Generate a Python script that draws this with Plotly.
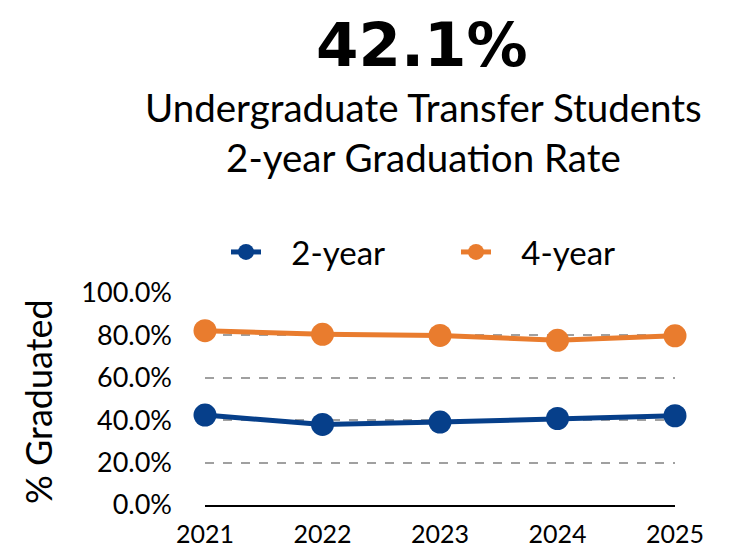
import plotly.graph_objects as go

years = [2021, 2022, 2023, 2024, 2025]
two_year = [42.4, 38.0, 39.1, 40.8, 42.1]
four_year = [82.2, 80.5, 80.0, 77.7, 79.8]
y_ticks = [0, 20, 40, 60, 80, 100]
y_tick_text = ["0.0%", "20.0%", "40.0%", "60.0%", "80.0%", "100.0%"]
headline = "42.1%"
subtitle = "Undergraduate Transfer Students<br>2-year Graduation Rate"

BLUE = "#063f8a"
ORANGE = "#e97c2e"
FONT = "Lato"
PAD = "\u00a0" * 3  # extra gap between legend symbol and label

# page has an 8px body margin, so work in page pixels and shift
OFF = 8
W, H = 733 - OFF, 548 - OFF
# plot area in page pixels: x 205..675, y 293..505
L, R, T, B = 205 - OFF, 675 - OFF, 293 - OFF, 505 - OFF

fig = go.Figure()
fig.add_trace(go.Scatter(x=years, y=two_year, name=PAD + "2-year", mode="lines+markers",
                         line=dict(color=BLUE, width=5), marker=dict(size=23, color=BLUE),
                         cliponaxis=False))
fig.add_trace(go.Scatter(x=years, y=four_year, name=PAD + "4-year", mode="lines+markers",
                         line=dict(color=ORANGE, width=5), marker=dict(size=23, color=ORANGE),
                         cliponaxis=False))

fig.update_layout(
    width=W, height=H,
    margin=dict(l=L, r=W - R, t=T, b=H - B, autoexpand=False),
    paper_bgcolor="white", plot_bgcolor="white",
    font=dict(family=FONT, color="black", size=22),
    showlegend=True,
    legend=dict(orientation="h", xref="container", yref="container",
                x=(226 - OFF) / W, y=1 - (252 - OFF) / H, xanchor="left", yanchor="middle",
                font=dict(size=33), entrywidth=185, entrywidthmode="pixels",
                bgcolor="rgba(0,0,0,0)"),
)
fig.update_xaxes(range=[2021, 2025], tickvals=years, showgrid=False,
                 showline=True, linecolor="black", linewidth=2, ticks="",
                 tickfont=dict(size=25), zeroline=False, ticklabelstandoff=6)
fig.update_yaxes(range=[0, 100], tickvals=y_ticks, ticktext=y_tick_text,
                 showgrid=True, gridcolor="#a0a0a0", griddash="dash", gridwidth=2,
                 zeroline=False, showline=False, ticks="", ticklabelstandoff=32,
                 tickfont=dict(size=27))

fig.add_annotation(text="<b>" + headline + "</b>", xref="x domain", yref="paper",
                   x=(422 - OFF - L) / (R - L), y=1 + (T - (44 - OFF)) / (B - T),
                   showarrow=False, yanchor="middle", borderpad=0,
                   font=dict(size=61, family="DejaVu Sans"))
fig.add_annotation(text=subtitle, xref="x domain", yref="paper",
                   x=(423 - OFF - L) / (R - L), y=1 + (T - (132 - OFF)) / (B - T),
                   showarrow=False, yanchor="middle", font=dict(size=38.5))
fig.add_annotation(text="% Graduated", xref="x domain", yref="paper",
                   x=(38 - OFF - L) / (R - L), y=(B - (402 - OFF)) / (B - T), showarrow=False,
                   textangle=-90, xanchor="center", yanchor="middle", font=dict(size=36))

fig.write_html("out.html")
